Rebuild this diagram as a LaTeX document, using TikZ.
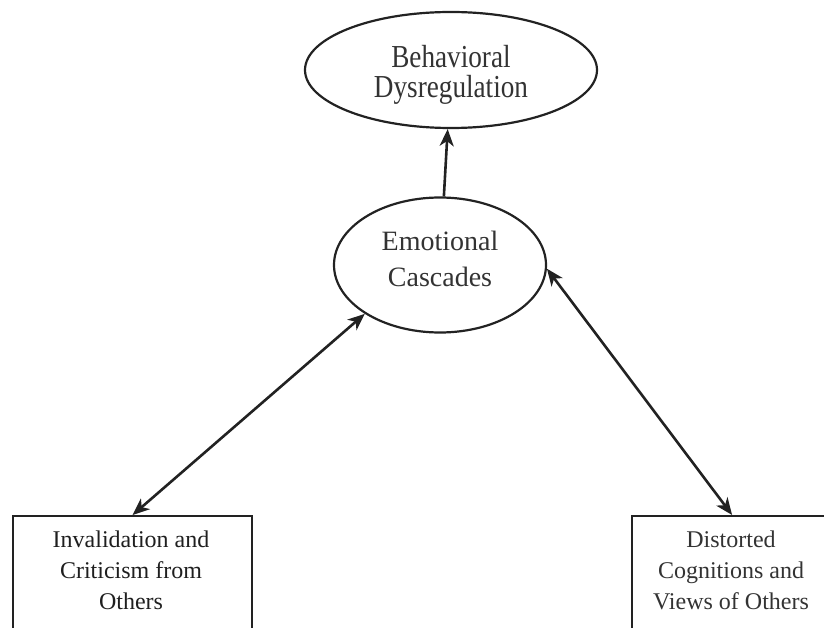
\documentclass[tikz,border=0pt]{standalone}
\usepackage{fontspec}
\setmainfont{Liberation Serif}
\newfontfamily\narrowserif[FakeStretch=0.85]{Liberation Serif}
\usetikzlibrary{shapes.geometric,arrows.meta}
\definecolor{ink}{HTML}{222222}
\definecolor{txtc}{HTML}{333333}
\begin{document}
\begin{tikzpicture}[x=1pt,y=-1pt,
  >={Stealth[length=17pt,width=14pt,inset=5pt]},
  ell/.style={ellipse, draw=ink, line width=2.2pt, inner sep=0pt},
  boxnode/.style={rectangle, draw=ink, line width=2.2pt, inner sep=0pt, anchor=north west},
  lbl/.style={text=txtc, align=center, inner sep=0pt},
  conn/.style={draw=ink, line width=2.6pt}]
\clip (0,0) rectangle (824,628);
% shapes
\node[ell, minimum width=292pt, minimum height=116pt] (behav) at (451,70) {};
\node[ell, minimum width=212pt, minimum height=135pt] (emo) at (440,265) {};
\node[boxnode, minimum width=239pt, minimum height=117pt] (inval) at (12,515) {};
\node[boxnode, minimum width=200pt, minimum height=117pt] (dist) at (631,515) {};
% labels
\node[lbl, font=\narrowserif\fontsize{32}{30}\selectfont] (behavtxt) at (451,75) {Behavioral\\Dysregulation};
\node[lbl, font=\fontsize{28}{36}\selectfont] (emotxt) at (440,259) {Emotional\\Cascades};
\node[lbl, font=\fontsize{24}{31}\selectfont, text=black!88] (invaltxt) at (131,570) {Invalidation and\\Criticism from\\Others};
\node[lbl, font=\fontsize{24}{31}\selectfont] (disttxt) at (731,570) {Distorted\\Cognitions and\\Views of Others};
% connectors
\draw[conn, ->] (emo) -- (behav);
\draw[conn, <->] (inval.north) -- (emo.213);
\draw[conn, <->] (emo.-2) -- (dist.north);
\end{tikzpicture}
\end{document}
